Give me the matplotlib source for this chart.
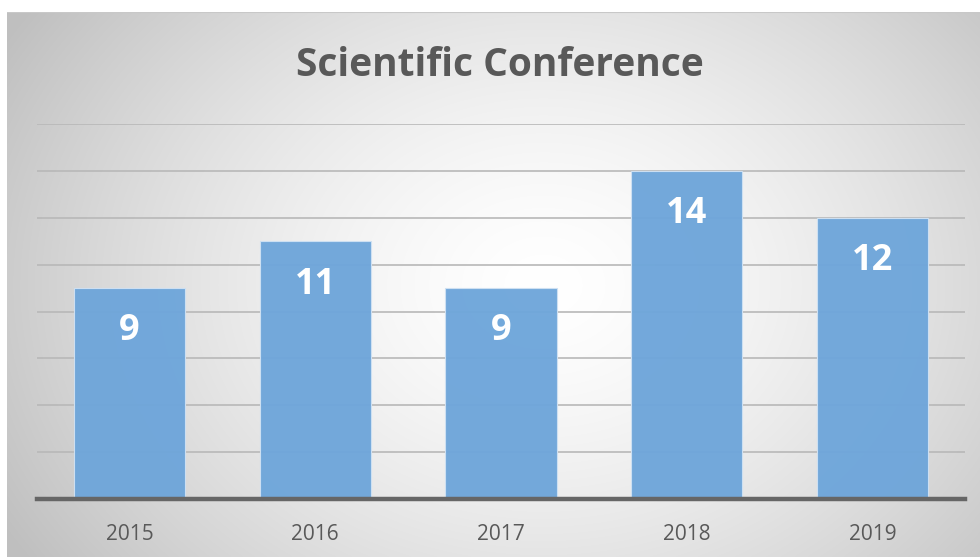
import numpy as np
import matplotlib
matplotlib.use("Agg")
import matplotlib.pyplot as plt

years = ["2015", "2016", "2017", "2018", "2019"]
counts = [9, 11, 9, 14, 12]
title = "Scientific Conference"

W, H = 980, 557
fig = plt.figure(figsize=(W / 100, H / 100), dpi=100)
fig.patch.set_facecolor("white")

# radial gradient background panel
bg = fig.add_axes([7 / W, 0, 1 - 7 / W, 1 - 12 / H])
bg.set_axis_off()
ny, nx = 300, 600
yy, xx = np.mgrid[0:ny, 0:nx]
cx, cy = 0.55 * nx, 0.50 * ny
r = np.sqrt(((xx - cx) / (0.64 * nx)) ** 2 + ((yy - cy) / (0.9 * ny)) ** 2)
r = np.clip(r, 0, 1)
v = 1.0 - 0.25 * r ** 1.5
img = np.dstack([v, v, v])
bg.imshow(img, aspect="auto", extent=[0, 1, 0, 1], interpolation="bilinear")
bg.set_xlim(0, 1)
bg.set_ylim(0, 1)
bg.add_line(plt.Line2D([0, 1], [1, 1], color="#c8c8c8", lw=1.5, transform=bg.transAxes))

left = 36.6 / W
right = 965.4 / W
bottom = (H - 499) / H
top = (H - 124) / H
ax = fig.add_axes([left, bottom, right - left, top - bottom])
ax.patch.set_alpha(0)

x = np.arange(len(years))
bars = ax.bar(x, counts, width=0.6, color="#6fa6da", alpha=0.97,
              edgecolor="#cfe1f3", linewidth=0.8, zorder=2)
ax.set_xlim(-0.5, len(years) - 0.5)
ax.set_ylim(0, 16)
ax.set_yticks(np.arange(2, 17, 2))
ax.yaxis.grid(True, color="#b8b8b8", lw=1.2, zorder=1)
ax.set_axisbelow(True)
ax.tick_params(axis="y", left=False, labelleft=False)
ax.tick_params(axis="x", length=0, pad=18, labelsize=15, labelcolor="#595959")
ax.set_xticks(x)
ax.set_xticklabels(years, fontfamily="Open Sans")
for s in ["top", "right", "left"]:
    ax.spines[s].set_visible(False)
ax.spines["bottom"].set_color("#666666")
ax.spines["bottom"].set_linewidth(3.2)
ax.spines["bottom"].set_zorder(3)

for xi, c in zip(x, counts):
    ax.text(xi, c - 1.85, str(c), ha="center", va="center", color="white",
            fontsize=26, fontweight="bold", fontfamily="Open Sans", zorder=4)

fig.text(500 / W, 1 - 66 / H, title, ha="center", va="center",
         fontsize=28, fontweight="bold", color="#595959", fontfamily="Open Sans")

fig.savefig("out.png", dpi=100)
